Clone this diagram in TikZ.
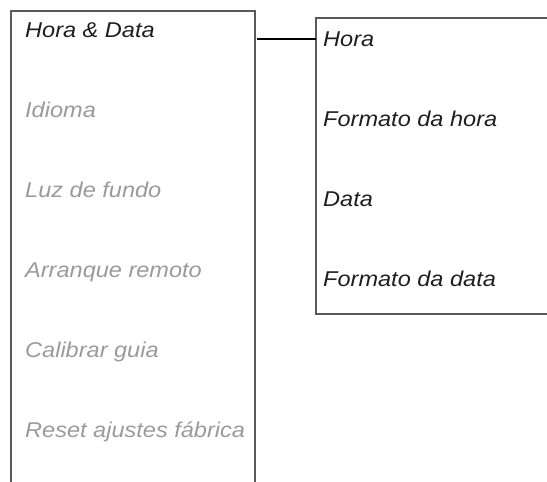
\documentclass[tikz,border=0pt]{standalone}
\usepackage{fontspec}
\setmainfont{Liberation Sans}
\newfontfamily\itemfont{Liberation Sans Italic}[FakeStretch=1.1]
\definecolor{boxline}{HTML}{5A5A5A}
\definecolor{activetxt}{HTML}{1E1E1E}
\definecolor{dimtxt}{HTML}{9A9A9A}
\tikzset{
  boxedge/.style={draw=boxline, line width=1.3pt},
  menuitem/.style={anchor=base west, inner sep=0pt, font=\itemfont\fontsize{21.4}{25}\selectfont, text=activetxt},
  dimitem/.style={menuitem, text=dimtxt},
  link/.style={draw=black, line width=1.1pt}
}
\begin{document}
\begin{tikzpicture}[x=1pt, y=-1pt]
\useasboundingbox (0,0) rectangle (547,482);
% left menu box (open at bottom)
\coordinate (lbl) at (11,482);
\coordinate (ltl) at (11,11);
\coordinate (ltr) at (255,11);
\coordinate (lbr) at (255,482);
\draw[boxedge] (lbl) -- (ltl) -- (ltr) -- (lbr);
% right submenu box (cut at right edge)
\coordinate (rtr) at (548,18);
\coordinate (rtl) at (316,18);
\coordinate (rbl) at (316,314);
\coordinate (rbr) at (548,314);
\draw[boxedge] (rtr) -- (rtl) -- (rbl) -- (rbr);
% menu items
\node[menuitem] (m1) at (25,37) {Hora \& Data};
\node[dimitem] (m2) at (25,117) {Idioma};
\node[dimitem] (m3) at (25,197) {Luz de fundo};
\node[dimitem] (m4) at (25,277) {Arranque remoto};
\node[dimitem] (m5) at (25,357) {Calibrar guia};
\node[dimitem] (m6) at (25,437) {Reset ajustes fábrica};
% submenu items
\node[menuitem] (s1) at (323,46) {Hora};
\node[menuitem] (s2) at (323,126) {Formato da hora};
\node[menuitem] (s3) at (323,206) {Data};
\node[menuitem] (s4) at (323,286) {Formato da data};
% connector
\coordinate (ca) at (257,39);
\coordinate (cb) at (316,39);
\draw[link] (ca) -- (cb);
\end{tikzpicture}
\end{document}
